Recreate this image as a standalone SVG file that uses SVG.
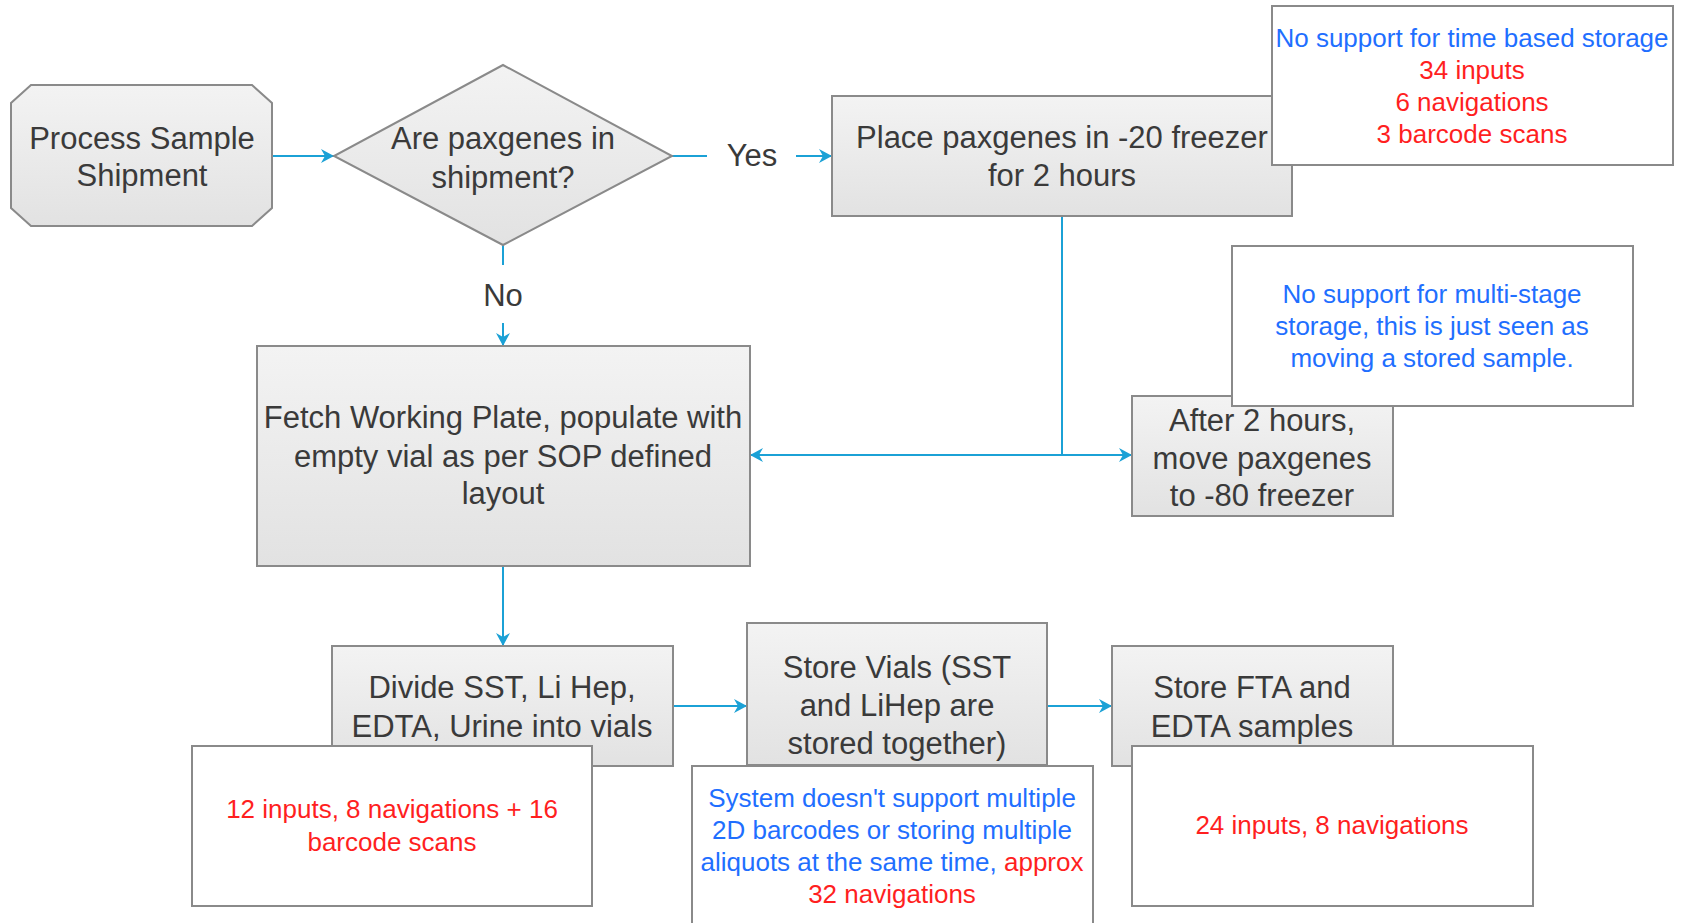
<svg xmlns="http://www.w3.org/2000/svg" width="1681" height="923" viewBox="0 0 1681 923">
<style>
.node{fill:url(#g);stroke:#8a8a8a;stroke-width:2}
.note{fill:#ffffff;stroke:#8a8a8a;stroke-width:2}
.t{font-family:"Liberation Sans",Arial,sans-serif;font-size:31px;fill:#3a3a3a;text-anchor:middle}
.n{font-family:"Liberation Sans",Arial,sans-serif;font-size:26px;text-anchor:middle}
.b{fill:#1f6fff}
.r{fill:#ff1f1f}
.c{fill:none;stroke:#1ba1d6;stroke-width:2}
</style>
<defs>
<linearGradient id="g" x1="0" y1="0" x2="0" y2="1">
<stop offset="0" stop-color="#f3f3f3"/>
<stop offset="1" stop-color="#e2e2e2"/>
</linearGradient>
<marker id="a" markerUnits="userSpaceOnUse" markerWidth="16" markerHeight="16" refX="14" refY="8" orient="auto">
<path d="M1,1 L14,8 L1,15 L5,8 Z" fill="#1ba1d6"/>
</marker>
</defs>
<rect width="1681" height="923" fill="#ffffff"/>
<g id="connectors">
<path class="c" d="M272,156 L334,156" marker-end="url(#a)"/>
<path class="c" d="M672,156 L707,156"/>
<path class="c" d="M796,156 L832,156" marker-end="url(#a)"/>
<path class="c" d="M503,245 L503,265"/>
<path class="c" d="M503,323 L503,346" marker-end="url(#a)"/>
<path class="c" d="M1062,215 L1062,455"/>
<path class="c" d="M1062,455 L750,455" marker-end="url(#a)"/>
<path class="c" d="M1062,455 L1132,455" marker-end="url(#a)"/>
<path class="c" d="M503,566 L503,646" marker-end="url(#a)"/>
<path class="c" d="M673,706 L747,706" marker-end="url(#a)"/>
<path class="c" d="M1047,706 L1112,706" marker-end="url(#a)"/>
<text class="t" x="752" y="166">Yes</text>
<text class="t" x="503" y="306">No</text>
</g>
<g id="process">
<polygon class="node" points="31,85 252,85 272,103 272,208 252,226 31,226 11,208 11,103"/>
<text class="t" x="142" y="149">Process Sample</text>
<text class="t" x="142" y="186">Shipment</text>
</g>
<g id="decision">
<polygon class="node" points="503,65 672,156 503,245 334,156"/>
<text class="t" x="503" y="149">Are paxgenes in</text>
<text class="t" x="503" y="188">shipment?</text>
</g>
<g id="place">
<rect class="node" x="832" y="96" width="460" height="120"/>
<text class="t" x="1062" y="148">Place paxgenes in -20 freezer</text>
<text class="t" x="1062" y="186">for 2 hours</text>
</g>
<g id="note-time">
<rect class="note" x="1272" y="6" width="401" height="159"/>
<text class="n b" x="1472" y="47">No support for time based storage</text>
<text class="n r" x="1472" y="79">34 inputs</text>
<text class="n r" x="1472" y="111">6 navigations</text>
<text class="n r" x="1472" y="143">3 barcode scans</text>
</g>
<g id="fetch">
<rect class="node" x="257" y="346" width="493" height="220"/>
<text class="t" x="503" y="428">Fetch Working Plate, populate with</text>
<text class="t" x="503" y="467">empty vial as per SOP defined</text>
<text class="t" x="503" y="504">layout</text>
</g>
<g id="after">
<rect class="node" x="1132" y="396" width="261" height="120"/>
<text class="t" x="1262" y="431">After 2 hours,</text>
<text class="t" x="1262" y="469">move paxgenes</text>
<text class="t" x="1262" y="506">to -80 freezer</text>
</g>
<g id="note-multistage">
<rect class="note" x="1232" y="246" width="401" height="160"/>
<text class="n b" x="1432" y="303">No support for multi-stage</text>
<text class="n b" x="1432" y="335">storage, this is just seen as</text>
<text class="n b" x="1432" y="367">moving a stored sample.</text>
</g>
<g id="divide">
<rect class="node" x="332" y="646" width="341" height="120"/>
<text class="t" x="502" y="698">Divide SST, Li Hep,</text>
<text class="t" x="502" y="737">EDTA, Urine into vials</text>
</g>
<g id="store-vials">
<rect class="node" x="747" y="623" width="300" height="142"/>
<text class="t" x="897" y="678">Store Vials (SST</text>
<text class="t" x="897" y="716">and LiHep are</text>
<text class="t" x="897" y="754">stored together)</text>
</g>
<g id="store-fta">
<rect class="node" x="1112" y="646" width="281" height="120"/>
<text class="t" x="1252" y="698">Store FTA and</text>
<text class="t" x="1252" y="737">EDTA samples</text>
</g>
<g id="note-divide">
<rect class="note" x="192" y="746" width="400" height="160"/>
<text class="n r" x="392" y="818">12 inputs, 8 navigations + 16</text>
<text class="n r" x="392" y="851">barcode scans</text>
</g>
<g id="note-store">
<rect class="note" x="692" y="766" width="401" height="170"/>
<text class="n b" x="892" y="807">System doesn't support multiple</text>
<text class="n b" x="892" y="839">2D barcodes or storing multiple</text>
<text class="n" x="892" y="871"><tspan class="b">aliquots at the same time, </tspan><tspan class="r">approx</tspan></text>
<text class="n r" x="892" y="903">32 navigations</text>
</g>
<g id="note-fta">
<rect class="note" x="1132" y="746" width="401" height="160"/>
<text class="n r" x="1332" y="834">24 inputs, 8 navigations</text>
</g>
</svg>
